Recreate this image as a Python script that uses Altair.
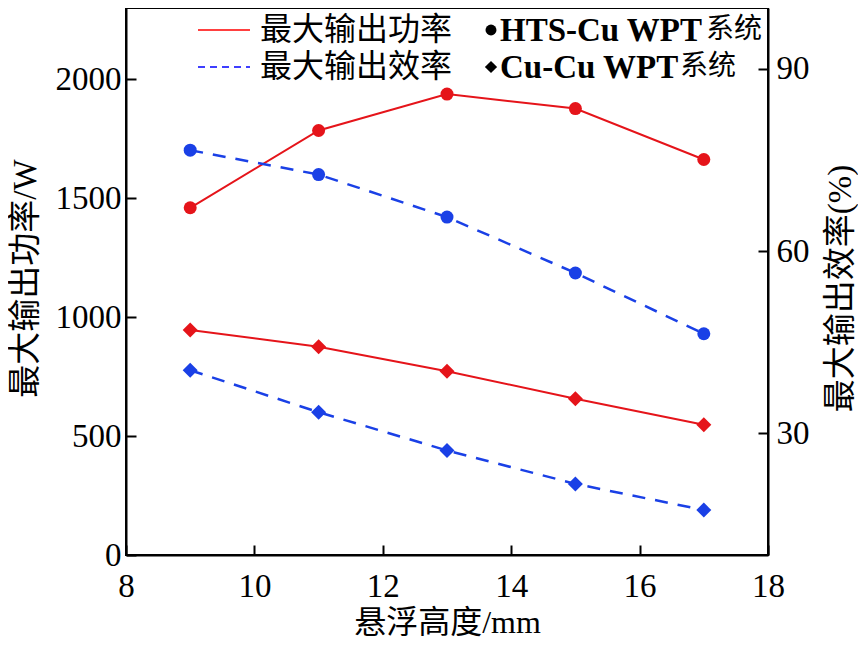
import altair as alt
import pandas as pd

# ---- data ----
heights = [9, 11, 13, 15, 17]
hts_power = [1460, 1785, 1938, 1877, 1663]
cu_power = [946, 876, 773, 657, 548]
hts_eff = [76.6, 72.6, 65.6, 56.4, 46.4]
cu_eff = [40.4, 33.5, 27.2, 21.7, 17.4]
systems = ["HTS-Cu WPT系统", "Cu-Cu WPT系统"]

x_ticks = [8, 10, 12, 14, 16, 18]
left_ticks = [0, 500, 1000, 1500, 2000]
right_ticks = [30, 60, 90]

RED = "#E5141A"
BLUE = "#1A40E6"
SERIF = "'Liberation Serif', 'Times New Roman', 'DejaVu Serif', serif"
CJK = "'Liberation Serif', 'Times New Roman', 'Noto Sans CJK SC', serif"

power_df = pd.DataFrame({
    "h": heights * 2,
    "v": hts_power + cu_power,
    "sys": [systems[0]] * 5 + [systems[1]] * 5,
})
eff_df = pd.DataFrame({
    "h": heights * 2,
    "v": hts_eff + cu_eff,
    "sys": [systems[0]] * 5 + [systems[1]] * 5,
})

inward = alt.ExprRef(expr="-10")

x_enc = alt.X("h:Q", scale=alt.Scale(domain=[8, 18], nice=False, zero=False),
              axis=alt.Axis(values=x_ticks, title="悬浮高度/mm", tickSize=inward, format="d",
                            labelPadding=25, titleY=67, titleBaseline="middle",
                            titleAnchor="middle", titleFontSize=32))
yl_enc = alt.Y("v:Q", scale=alt.Scale(domain=[0, 2300], nice=False),
               axis=alt.Axis(values=left_ticks, orient="left", title="最大输出功率/W",
                             tickSize=inward, labelPadding=15, format="d",
                             titleAngle=270, titleX=-101, titleY=270,
                             titleBaseline="middle", titleAlign="center"))
yr_enc = alt.Y("v:Q", scale=alt.Scale(domain=[10, 100], nice=False, zero=False),
               axis=alt.Axis(values=right_ticks, orient="right", title="最大输出效率(%)",
                             tickSize=inward, labelPadding=18, format="d",
                             titleAngle=270, titleX=72, titleY=280,
                             titleBaseline="middle", titleAlign="center"))

shape_enc = alt.Shape("sys:N", scale=alt.Scale(domain=systems, range=["circle", "diamond"]), legend=None)
size_enc = alt.Size("sys:N", scale=alt.Scale(domain=systems, range=[169, 225]), legend=None)

p_line = alt.Chart(power_df).mark_line(color=RED, strokeWidth=2).encode(x=x_enc, y=yl_enc, detail="sys:N")
p_pts = alt.Chart(power_df).mark_point(filled=True, color=RED, opacity=1).encode(
    x=x_enc, y=yl_enc, shape=shape_enc, size=size_enc)
e_line = alt.Chart(eff_df).mark_line(color=BLUE, strokeWidth=2.5, strokeDash=[13, 10]).encode(
    x=x_enc, y=yr_enc, detail="sys:N")
e_pts = alt.Chart(eff_df).mark_point(filled=True, color=BLUE, opacity=1).encode(
    x=x_enc, y=yr_enc, shape=shape_enc, size=size_enc)

left = alt.layer(p_line, p_pts)
right = alt.layer(e_line, e_pts)

# ---- legend (drawn inside the plot) ----
leg_df = pd.DataFrame({"k": [0]})
def rule(y, color, dash=None):
    kw = dict(color=color, strokeWidth=1.6)
    if dash:
        kw["strokeDash"] = dash
    return alt.Chart(leg_df).mark_rule(**kw).encode(
        x=alt.value(72), x2=alt.value(124), y=alt.value(y))

def txt(s, x, y, font, weight="normal", size=32):
    return alt.Chart(leg_df).mark_text(text=s, font=font, fontSize=size, fontWeight=weight,
                                       align="left", baseline="middle", color="black").encode(
        x=alt.value(x), y=alt.value(y))

def sym(shape, y, size):
    return alt.Chart(leg_df).mark_point(shape=shape, filled=True, color="black", opacity=1,
                                        size=size).encode(x=alt.value(365), y=alt.value(y))

legend = [
    rule(22, "#FF0000"),
    rule(59, "#0000FF", [7, 5]),
    txt("最大输出功率", 134, 22, CJK),
    txt("最大输出效率", 134, 59, CJK),
    sym("circle", 22, 120),
    sym("diamond", 59, 150),
    txt("HTS-Cu WPT", 374, 23, SERIF, "bold", 33),
    txt("系统", 580, 22, CJK, "normal", 28),
    txt("Cu-Cu WPT", 374, 60, SERIF, "bold", 33),
    txt("系统", 554, 59, CJK, "normal", 28),
]

chart = alt.layer(left, right, *legend).resolve_scale(y="independent").properties(
    width=642, height=547,
    autosize=alt.AutoSizeParams(type="none"),
    padding={"left": 118, "top": 0, "right": 90, "bottom": 85},
).configure_view(
    stroke="black", strokeWidth=2
).configure_axis(
    grid=False, domainColor="black", domainWidth=2, tickColor="black", tickWidth=2,
    labelFont=SERIF, labelFontSize=33, labelColor="black",
    titleFont=CJK, titleFontSize=33, titleFontWeight="normal", titleColor="black",
    labelFlush=False,
)

chart.save("out.html", embed_options={"renderer": "svg", "actions": False})
